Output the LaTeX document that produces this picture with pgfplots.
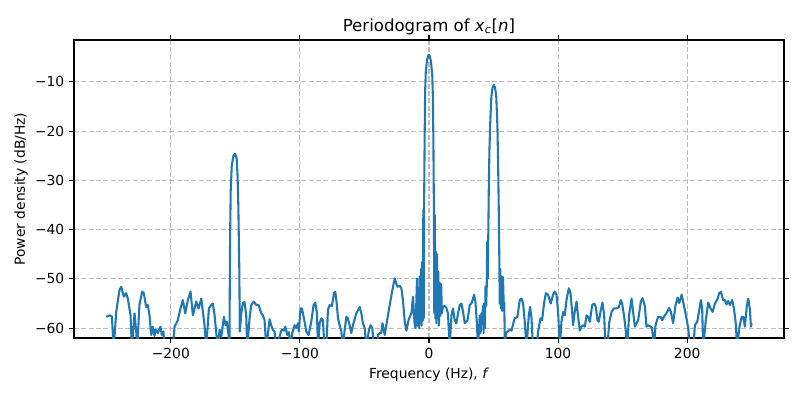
\documentclass[border=0pt]{standalone}
\usepackage{fontspec}
\setmainfont{DejaVu Sans}
\usepackage{pgfplots}
\pgfplotsset{compat=1.18}
\definecolor{mplblue}{HTML}{1F77B4}
\definecolor{gridgray}{HTML}{BDBDBD}
\begin{document}
\begin{tikzpicture}
\path[use as bounding box] (-0.74in,-0.62in) rectangle (7.26in,3.38in);
\begin{axis}[
  at={(0,0)}, anchor=south west,
  scale only axis, width=7.1in, height=2.98in,
  xmin=-275, xmax=275, ymin=-62, ymax=-1.5,
  xtick={-200,-100,0,100,200},
  xticklabels={−200,−100,0,100,200},
  ytick={-60,-50,-40,-30,-20,-10},
  yticklabels={−60,−50,−40,−30,−20,−10},
  tick align=outside, major tick length=3.5pt,
  every tick/.style={black, line width=0.8pt},
  axis line style={line width=0.8pt},
  tick label style={font=\fontsize{10}{12}\selectfont},
  grid=major,
  major grid style={gridgray, line width=0.8pt, dash pattern=on 3.7pt off 1.6pt},
  title={Periodogram of \textit{x}\textsubscript{\textit{c}}[\textit{n}]},
  title style={at={(axis description cs:0.5,1.05)}, anchor=center, yshift=-7pt, font=\fontsize{12}{14}\selectfont},
  xlabel={Frequency (Hz), \textit{f}},
  xlabel style={at={(axis description cs:0.5,-0.124)}, anchor=center, font=\fontsize{10}{12}\selectfont},
  ylabel={Power density (dB/Hz)},
  ylabel style={at={(axis description cs:-0.0746,0.5)}, anchor=center, font=\fontsize{10}{12}\selectfont},
]
\addplot[mplblue, line width=1.5pt, line join=round] coordinates {
(-250,-57.7) (-247.5,-57.4) (-245.7,-57.6) (-244.2,-64) (-242.3,-56.7) (-239.8,-52.3)
(-238.4,-51.6) (-236.4,-53.6) (-234.6,-52.9) (-233.3,-54.0) (-231.2,-57.4) (-230.2,-64)
(-228.1,-57.0) (-226.8,-60.7) (-226.0,-64) (-224.3,-55.3) (-222.2,-52.6) (-220.9,-52.9)
(-219.1,-55.7) (-217.8,-55.3) (-216.5,-57.4) (-215.2,-61.4) (-214.0,-59.7) (-212.6,-61.6)
(-211.9,-60.3) (-210.1,-61.0) (-208.0,-59.7) (-207.0,-61.4) (-205.7,-60.7) (-204.9,-64)
(-198.4,-64) (-197.1,-59.7) (-194.6,-58.4) (-192.5,-56.0) (-190.7,-54.3) (-188.8,-57.0)
(-186.8,-54.3) (-184.7,-52.6) (-182.9,-57.4) (-180.3,-54.6) (-178.5,-56.0) (-176.4,-54.0)
(-173.9,-59.4) (-172.6,-64) (-170.5,-56.0) (-168.7,-55.3) (-167.4,-55.0) (-166.1,-57.4)
(-164.8,-61.0) (-163.6,-64) (-162.2,-60.3) (-160.9,-61.8) (-158.9,-57.7) (-157.6,-59.4)
(-156.6,-58.7) (-155.3,-61.4) (-154.6,-64) (-154.1,-42) (-153.6,-32) (-152.8,-27)
(-151.5,-25) (-150.2,-24.6) (-149.0,-25.5) (-148.3,-29) (-147.7,-35.3) (-146.9,-48.8)
(-146.6,-60.7) (-145.4,-57.0) (-144.2,-54.9) (-142.9,-54.7) (-141.6,-57.4) (-140.8,-64)
(-139.0,-58.0) (-137.7,-55.3) (-135.7,-54.6) (-133.8,-55.3) (-132.0,-55.3) (-129.9,-57.0)
(-128.7,-57.4) (-127.4,-58.4) (-126.0,-64) (-123.5,-58.2) (-122.2,-59.4) (-121.0,-60.3)
(-119.6,-60.7) (-118.3,-64) (-115.0,-61.0) (-114.0,-60.3) (-112.4,-60.5) (-111.3,-59.7)
(-109.8,-61.4) (-108.5,-60.8) (-107.4,-64) (-105.9,-61.0) (-104.1,-59.4) (-102.8,-60.0)
(-101.5,-59.0) (-100.8,-60.7) (-99.5,-56.0) (-98.4,-56.0) (-96.9,-58.0) (-95.0,-60.7)
(-93.3,-61.4) (-91.2,-58.7) (-89.4,-55.3) (-88.1,-54.8) (-86.8,-57.0) (-86.0,-64)
(-84.7,-59.0) (-83.4,-58.0) (-82.2,-58.4) (-80.9,-64) (-79.5,-64) (-78.3,-56.3)
(-77.0,-55.3) (-75.2,-55.5) (-73.6,-52.9) (-72.6,-52.6) (-71.6,-54.7) (-70.5,-58.0)
(-69.2,-59.4) (-67.9,-60.7) (-66.7,-64) (-65.3,-60.3) (-64.0,-57.7) (-62.8,-58.0)
(-61.5,-59.4) (-60.2,-61.0) (-58.9,-59.4) (-56.3,-57.0) (-53.7,-55.7) (-52.4,-57.0)
(-51.2,-59.0) (-49.8,-60.0) (-48.5,-64) (-46.5,-60.3) (-45.2,-59.4) (-43.9,-60.0)
(-42.6,-64) (-40.5,-64) (-39.5,-61.4) (-38.2,-61.0) (-37.0,-61.0) (-36.0,-59.0)
(-34.3,-61.4) (-31.8,-57.4) (-29.1,-53.3) (-26.6,-49.9) (-24.5,-51.6) (-22.7,-51.4)
(-21.4,-51.9) (-20.2,-54.3) (-18.8,-58.7) (-17.5,-60.5) (-15.7,-58.2) (-13.6,-57.0)
(-12.4,-53.6) (-11.1,-59.4) (-10.4,-60.0) (-9.3,-49.9) (-8.8,-59.5) (-8.2,-52.0)
(-7.7,-60.0) (-7.2,-49.5) (-6.7,-59.0) (-6.2,-48.0) (-5.7,-59.5) (-5.2,-46.5)
(-4.8,-58.5) (-4.4,-36.0) (-4.1,-58.0) (-3.8,-35.5) (-3.4,-22) (-3.0,-12)
(-2.5,-8) (-1.5,-5.5) (-0.5,-4.6) (0,-4.5) (0.5,-4.7) (1.5,-5.8)
(2.5,-8.5) (3.0,-13) (3.4,-22) (3.8,-36) (4.1,-57) (4.5,-37)
(4.9,-58) (5.3,-44.5) (5.7,-59) (6.2,-45) (6.7,-58) (7.2,-48.5)
(7.7,-59.5) (8.2,-50.8) (8.7,-57.5) (9.4,-51) (10.0,-57) (10.8,-55.7)
(12.0,-55.5) (13.5,-55.9) (14.7,-57.0) (16.0,-64) (17.4,-57.4) (18.6,-56.0)
(19.9,-58.4) (21.2,-59.0) (22.5,-57.0) (23.8,-55.3) (25.1,-55.0) (26.4,-56.7)
(27.7,-59.0) (29.8,-58.4) (31.6,-55.3) (33.3,-54.8) (34.9,-53.2) (36.0,-54.7)
(37.0,-58.7) (38.0,-64) (39.3,-57.4) (40.0,-61) (40.6,-57) (41.2,-59)
(41.8,-55.5) (42.3,-61) (42.8,-55) (43.3,-60) (43.8,-51.5) (44.3,-55.5)
(44.7,-51.8) (45.1,-42.5) (45.5,-50) (45.9,-41.5) (46.3,-32) (46.8,-24)
(47.4,-18.5) (48.3,-13.0) (49.2,-11.2) (50.2,-10.6) (51.2,-11.2) (52.1,-13.0)
(53.0,-19) (53.5,-26) (54.0,-35) (54.4,-44) (54.8,-55) (55.2,-48)
(55.7,-56) (56.2,-49.5) (56.7,-56.5) (57.3,-49.6) (57.9,-55.5) (58.3,-54.8)
(58.8,-64) (59.6,-61) (60.9,-60.7) (62.6,-60.3) (63.9,-60.5) (65.9,-58.4)
(66.4,-58.0) (68.5,-57.7) (70.3,-54.3) (71.6,-54.0) (72.9,-55.0) (74.2,-58.7)
(75.5,-64) (77.3,-57.4) (78.3,-55.7) (79.4,-58.0) (80.6,-64) (83.3,-64)
(84.5,-60.7) (86.4,-58.0) (87.6,-58.4) (89.1,-55.0) (90.5,-52.9) (92.2,-53.2)
(94.3,-55.0) (96.1,-53.2) (97.4,-52.6) (98.8,-53.2) (100.0,-56.7) (101.3,-64)
(102.6,-58.7) (103.9,-56.7) (105.2,-57.4) (106.5,-54.3) (108.3,-51.9) (109.6,-52.9)
(110.9,-56.7) (111.6,-59.4) (112.9,-56.7) (114.3,-54.6) (115.5,-57.7) (116.8,-60.5)
(118.1,-59.7) (119.4,-59.4) (120.7,-59.7) (122.0,-57.4) (123.3,-57.7) (124.6,-58.7)
(126.4,-55.3) (128.0,-55.0) (129.2,-55.7) (130.5,-58.4) (131.5,-58.7) (133.1,-56.3)
(134.4,-54.8) (135.7,-57.4) (136.7,-64) (138.2,-64) (139.5,-59.0) (141.4,-56.7)
(143.2,-56.0) (145.3,-56.0) (147.1,-55.7) (148.6,-54.3) (149.6,-55.0) (151.2,-57.7)
(152.5,-60.7) (153.5,-64) (155.0,-57.4) (156.9,-54.0) (158.1,-56.7) (159.5,-59.7)
(160.8,-59.0) (162.0,-58.4) (164.1,-54.6) (165.4,-53.9) (167.2,-55.5) (168.5,-59.7)
(169.8,-59.4) (171.6,-59.7) (172.8,-60.0) (174.2,-64) (175.5,-59.4) (177.5,-57.7)
(179.4,-57.7) (180.6,-58.4) (182.7,-57.4) (184.5,-56.7) (186.0,-55.9) (187.4,-56.7)
(189.1,-59.0) (191.0,-55.3) (192.6,-53.8) (193.8,-54.9) (195.7,-53.2) (197.4,-55.3)
(199.0,-57.4) (200.8,-60.0) (202.1,-64) (204.7,-64) (206.0,-59.4) (207.8,-58.7)
(209.1,-56.7) (210.6,-54.3) (211.6,-56.0) (212.4,-64) (214.3,-58.7) (216.3,-54.8)
(218.1,-56.0) (219.7,-56.7) (221.5,-55.0) (223.6,-54.0) (224.8,-52.9) (226.1,-52.6)
(227.9,-54.3) (229.2,-54.3) (230.5,-55.2) (231.8,-54.5) (233.1,-55.3) (234.9,-54.3)
(236.2,-56.0) (237.5,-58.7) (238.8,-64) (240.3,-60.0) (242.2,-57.7) (243.4,-57.7)
(244.7,-59.7) (246.1,-55.7) (247.3,-54.0) (248.6,-56.3) (249.4,-59.7) (250,-59.0)
};
\end{axis}
\end{tikzpicture}
\end{document}
